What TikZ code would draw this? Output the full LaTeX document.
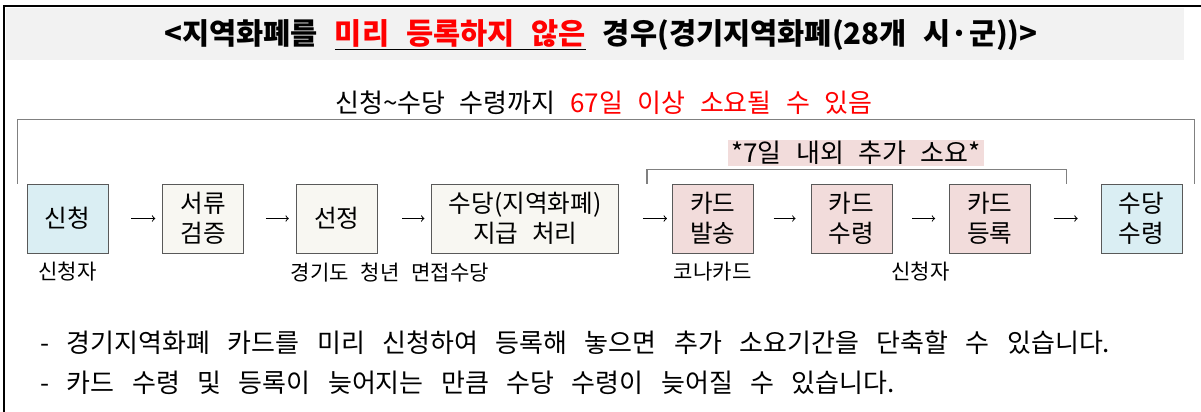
\documentclass[tikz,border=0pt]{standalone}
\usepackage{fontspec}
\setmainfont[WordSpace=2.5]{Noto Sans CJK KR}
\newfontfamily\tipfont[WordSpace=3]{Noto Sans CJK KR}
\usetikzlibrary{positioning,calc}
\definecolor{BandColor}{RGB}{242,242,242}
\definecolor{ApplyColor}{RGB}{218,238,243}
\definecolor{StepColor}{RGB}{248,247,242}
\definecolor{CardColor}{RGB}{242,220,219}
\definecolor{BoxLineColor}{RGB}{89,89,89}
\definecolor{LineColor}{RGB}{128,128,128}
\definecolor{WarnColor}{RGB}{255,0,0}

\begin{document}
\begin{tikzpicture}[x=0.25mm, y=-0.25mm,
    stepbox/.style={draw=BoxLineColor, minimum width=20.25mm, minimum height=17.25mm,
        inner sep=0pt, align=center, font=\fontsize{17.5}{21}\selectfont},
    arrow/.style={->, line width=0.25mm},
    bracket/.style={draw=LineColor, line width=0.35mm},
    who/.style={inner sep=0pt, anchor=north, font=\fontsize{15}{18}\selectfont},
    tip/.style={inner sep=0pt, anchor=west, font=\tipfont\fontsize{18.5}{22}\selectfont}]

    \useasboundingbox (0,0) rectangle (1201,412);

    % frame and title band
    \fill[BandColor] (6,8) rectangle (1184,60);
    \draw[line width=0.5mm] (4,412) -- (4,6) -- (1201,6);
    \node[font=\fontsize{21}{25}\selectfont\bfseries] (Title) at (601,35)
        {<지역화폐를 \underline{\textcolor{WarnColor}{미리 등록하지 않은}} 경우(경기지역화폐(28개 시·군))>};

    \node[font=\fontsize{18.5}{22}\selectfont] (Total) at (604,103)
        {신청\textasciitilde 수당 수령까지 \textcolor{WarnColor}{67일 이상 소요될 수 있음}};

    % steps
    \node[stepbox, fill=ApplyColor] (Apply) at (67.5,218.5) {신청};
    \node[stepbox, fill=StepColor, right=13.5mm of Apply] (Review) {서류\\검증};
    \node[stepbox, fill=StepColor, right=13mm of Review] (Select) {선정};
    \node[stepbox, fill=StepColor, minimum width=46.75mm, right=13.5mm of Select] (Pay)
        {수당(지역화폐)\\지급 처리};
    \node[stepbox, fill=CardColor, right=13.25mm of Pay] (CardSend) {카드\\발송};
    \node[stepbox, fill=CardColor, right=14.25mm of CardSend] (CardGet) {카드\\수령};
    \node[stepbox, fill=CardColor, right=14.25mm of CardGet] (CardReg) {카드\\등록};
    \node[stepbox, fill=ApplyColor, right=17.5mm of CardReg] (Receive) {수당\\수령};

    \foreach \from/\to/\pre/\post in {
        Apply/Review/5.75mm/1.75mm, Review/Select/5.5mm/1.75mm,
        Select/Pay/6.25mm/1.75mm, Pay/CardSend/6mm/1.25mm,
        CardSend/CardGet/5mm/3.75mm, CardGet/CardReg/5mm/3.5mm,
        CardReg/Receive/5.75mm/5.75mm}
    \draw [arrow, shorten <=\pre, shorten >=\post] (\from)--(\to);

    % brackets
    \draw[bracket] ([xshift=-2.25mm]Apply.north west) -- ++(0,16mm)
        -| ([xshift=3mm]Receive.north east);
    \draw[bracket] ([xshift=-6.25mm]CardSend.north west) -- ++(0,3.5mm)
        -| ([xshift=9mm]CardReg.north east);
    \node[fill=CardColor, inner xsep=0.75mm, inner ysep=0.25mm,
        font=\fontsize{18.5}{22}\selectfont] (Extra) at (856,153) {*7일 내외 추가 소요*};

    % who does it
    \node[who, below=2mm of Apply] (ApplyWho) {신청자};
    \node[who] (PayWho) at (390,263) {경기도 청년 면접수당};
    \node[who, below=2mm of CardSend] (SendWho) {코나카드};
    \node[who] (CardWho) at ($(CardGet.south)!0.5!(CardReg.south) + (0,-2mm)$) {신청자};

    % notes
    \node[tip] (Tip1) at (40,343) {- 경기지역화폐 카드를 미리 신청하여 등록해 놓으면 추가 소요기간을 단축할 수 있습니다.};
    \node[tip] (Tip2) at (40,383) {- 카드 수령 및 등록이 늦어지는 만큼 수당 수령이 늦어질 수 있습니다.};

\end{tikzpicture}
\end{document}
